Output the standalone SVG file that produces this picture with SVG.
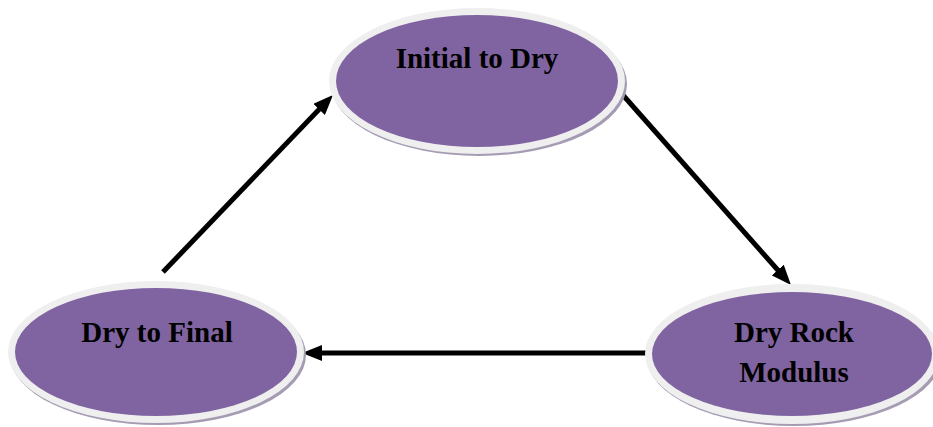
<svg xmlns="http://www.w3.org/2000/svg" width="933" height="427" viewBox="0 0 933 427">
<style>
.shadow{fill:#a59cb3}
.ring{fill:#efefef}
.body{fill:#8064a2}
.lbl{font-family:"Liberation Serif","Times New Roman",serif;font-weight:bold;font-size:29px;fill:#000;text-anchor:middle}
.conn{stroke:#000;stroke-width:5;fill:none}
</style>
<defs>
<marker id="ah" viewBox="0 0 20 16" refX="6" refY="8" markerWidth="20" markerHeight="16" markerUnits="userSpaceOnUse" orient="auto">
<path d="M0,0 L20,8 L0,16 z" fill="#000"/>
</marker>
</defs>
<rect width="933" height="427" fill="#fff"/>
<g id="connectors">
<line class="conn" x1="163" y1="272" x2="323.3" y2="105.1" marker-end="url(#ah)"/>
<line class="conn" x1="622" y1="94" x2="781.7" y2="274.5" marker-end="url(#ah)"/>
<line class="conn" x1="648" y1="353" x2="316" y2="353" marker-end="url(#ah)"/>
</g>
<g id="node-initial-to-dry">
<ellipse class="shadow" cx="479" cy="84" rx="148" ry="72"/>
<ellipse class="ring" cx="477" cy="81" rx="148" ry="73"/>
<ellipse class="body" cx="477" cy="81" rx="141" ry="66"/>
<text class="lbl" x="477" y="68">Initial to Dry</text>
</g>
<g id="node-dry-to-final">
<ellipse class="shadow" cx="158" cy="355" rx="148" ry="70"/>
<ellipse class="ring" cx="156" cy="352" rx="148" ry="71"/>
<ellipse class="body" cx="156" cy="352" rx="141" ry="64"/>
<text class="lbl" x="157" y="342">Dry to Final</text>
</g>
<g id="node-dry-rock-modulus">
<ellipse class="shadow" cx="794" cy="357" rx="147" ry="69"/>
<ellipse class="ring" cx="792" cy="354" rx="147" ry="70"/>
<ellipse class="body" cx="792" cy="354" rx="140" ry="62"/>
<text class="lbl" x="794" y="342">Dry Rock</text>
<text class="lbl" x="794" y="382">Modulus</text>
</g>
</svg>
